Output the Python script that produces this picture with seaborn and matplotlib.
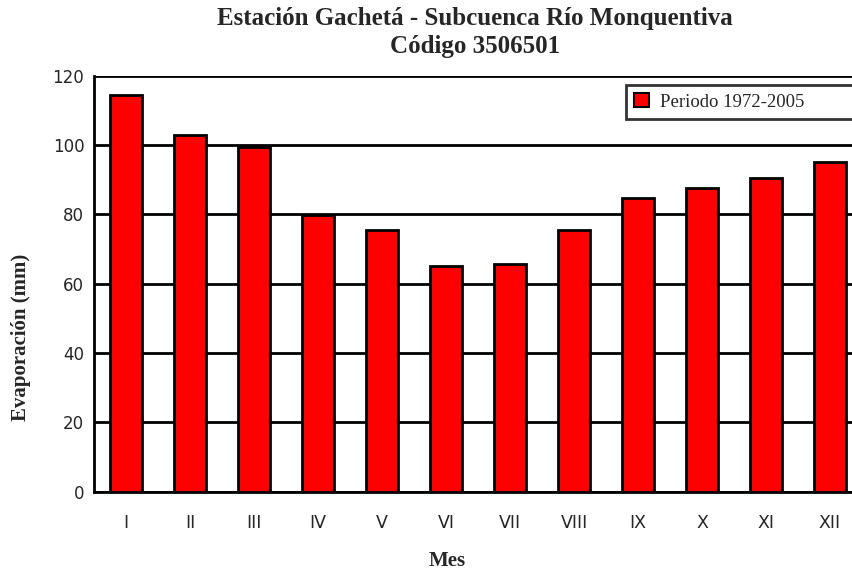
import matplotlib
matplotlib.use("Agg")
import matplotlib.pyplot as plt
import seaborn as sns
import pandas as pd

months = ["I", "II", "III", "IV", "V", "VI", "VII", "VIII", "IX", "X", "XI", "XII"]
evaporation = [114.4, 102.9, 99.4, 79.8, 75.6, 65.2, 65.8, 75.6, 84.8, 87.7, 90.6, 95.2]
series_name = "Periodo 1972-2005"
y_ticks = [0, 20, 40, 60, 80, 100, 120]

df = pd.DataFrame({"Mes": months, "Evaporación": evaporation, "Serie": series_name})

sns.set_style("white")
plt.rcParams["font.family"] = ["DejaVu Sans"]

W, H = 852, 573
fig = plt.figure(figsize=(W / 100, H / 100), dpi=100)
ax = fig.add_axes([94 / W, (H - 491.7) / H, 768 / W, 416 / H])

sns.barplot(data=df, x="Mes", y="Evaporación", hue="Serie", palette=["#ff0000"],
            width=0.5, edgecolor="black", linewidth=2, saturation=1, ax=ax, zorder=3)

ax.set_xlim(-0.5, 11.5)
ax.set_ylim(0, 120)
ax.set_yticks(y_ticks)
ax.set_yticklabels([str(v) for v in y_ticks], fontsize=12)
ax.yaxis.grid(True, color="black", linewidth=2)
ax.set_axisbelow(True)
for s in ["top", "right"]:
    ax.spines[s].set_visible(False)
for s in ["left", "bottom"]:
    ax.spines[s].set_color("black")
    ax.spines[s].set_linewidth(2)
ax.tick_params(axis="y", direction="out", length=5, width=2, color="black", pad=2)
# x ticks at category boundaries
ax.set_xticks([i - 0.5 for i in range(12)], minor=False)
ax.set_xticklabels([])
ax.set_xticks(range(12), minor=True)
ax.set_xticklabels(months, minor=True, fontsize=12.5)
ax.tick_params(axis="x", which="major", direction="out", length=5, width=2, color="black")
ax.tick_params(axis="x", which="minor", length=0, pad=16)
ax.set_xlabel("")
ax.set_ylabel("")

fig.text(475 / W, 1 - 18 / H, "Estación Gachetá - Subcuenca Río Monquentiva", ha="center", va="center",
         fontsize=18, fontweight="bold", family="Liberation Serif")
fig.text(475 / W, 1 - 46 / H, "Código 3506501", ha="center", va="center",
         fontsize=18, fontweight="bold", family="Liberation Serif")
fig.text(447 / W, 1 - 561 / H, "Mes", ha="center", va="center",
         fontsize=15, fontweight="bold", family="Liberation Serif")
fig.text(21 / W, 1 - 337 / H, "Evaporación (mm)", ha="center", va="center", rotation=90,
         fontsize=15, fontweight="bold", family="Liberation Serif")

leg = ax.legend(loc="upper left", bbox_to_anchor=(626 / W, 1 - 128 / H, 260 / W, 43 / H),
                bbox_transform=fig.transFigure, mode="expand", frameon=True, fancybox=False,
                prop={"family": "Liberation Serif", "size": 13.5}, handlelength=0.75, handleheight=0.75,
                borderpad=0.45, handletextpad=0.6, borderaxespad=0)
leg.get_frame().set_edgecolor("black")
leg.get_frame().set_linewidth(2)
for h in leg.legend_handles:
    h.set_linewidth(1.5)

fig.savefig("out.png", dpi=100)
